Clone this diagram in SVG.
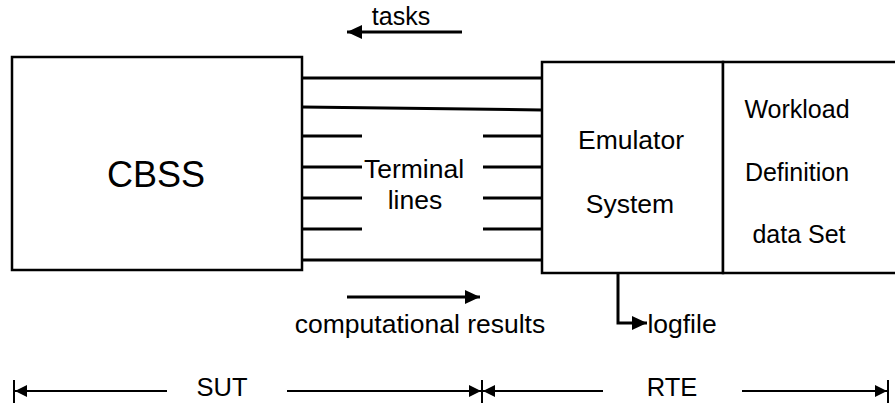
<svg xmlns="http://www.w3.org/2000/svg" width="895" height="406" viewBox="0 0 895 406">
<style>
.box{fill:#fff;stroke:#000;stroke-width:2.5}
.ln{stroke:#000;stroke-width:3;fill:none}
.thin{stroke:#000;stroke-width:2;fill:none}
.t{font-family:"Liberation Sans",Arial,sans-serif;font-size:26.5px;fill:#000;text-anchor:middle}
.s{font-size:25px}
</style>
<defs>
<marker id="ah" markerUnits="userSpaceOnUse" markerWidth="16" markerHeight="14" refX="15" refY="7" orient="auto">
<path d="M0,0 L15,7 L0,14 Z" fill="#000"/>
</marker>
<marker id="ahs" markerUnits="userSpaceOnUse" markerWidth="13" markerHeight="12" refX="12" refY="6" orient="auto">
<path d="M0,0 L12,6 L0,12 Z" fill="#000"/>
</marker>
</defs>
<g id="cbss">
<rect class="box" x="12" y="57" width="290" height="213"/>
<text class="t" x="156" y="187" style="font-size:36px">CBSS</text>
</g>
<g id="emulator">
<rect class="box" x="542" y="62" width="181" height="211"/>
<text class="t" x="631" y="149">Emulator</text>
<text class="t" x="630" y="213">System</text>
</g>
<g id="workload">
<rect class="box" x="723" y="62" width="180" height="211"/>
<text class="t s" x="797" y="118">Workload</text>
<text class="t s" x="797" y="181">Definition</text>
<text class="t s" x="799" y="243">data Set</text>
</g>
<g id="connectors">
<line class="ln" x1="302" y1="78" x2="542" y2="78"/>
<line class="ln" x1="302" y1="107" x2="542" y2="110"/>
<line class="ln" x1="302" y1="136" x2="362" y2="136"/>
<line class="ln" x1="483" y1="136" x2="542" y2="136"/>
<line class="ln" x1="302" y1="167" x2="362" y2="167"/>
<line class="ln" x1="483" y1="167" x2="542" y2="167"/>
<line class="ln" x1="302" y1="198" x2="362" y2="198"/>
<line class="ln" x1="483" y1="198" x2="542" y2="198"/>
<line class="ln" x1="302" y1="229" x2="362" y2="229"/>
<line class="ln" x1="483" y1="229" x2="542" y2="229"/>
<line class="ln" x1="302" y1="260" x2="542" y2="260"/>
<line class="ln" x1="462" y1="32" x2="347" y2="32" marker-end="url(#ah)"/>
<line class="ln" x1="347" y1="297" x2="480" y2="297" marker-end="url(#ah)"/>
<polyline class="ln" points="618,273 618,323 647,323" marker-end="url(#ah)"/>
<line class="thin" x1="167" y1="391" x2="15" y2="391" marker-end="url(#ahs)"/>
<line class="thin" x1="287" y1="391" x2="481" y2="391" marker-end="url(#ahs)"/>
<line class="thin" x1="603" y1="391" x2="483" y2="391" marker-end="url(#ahs)"/>
<line class="thin" x1="742" y1="391" x2="887" y2="391" marker-end="url(#ahs)"/>
<line class="thin" x1="14" y1="380" x2="14" y2="403"/>
<line class="thin" x1="482" y1="380" x2="482" y2="403"/>
<line class="thin" x1="888" y1="380" x2="888" y2="403"/>
</g>
<g id="labels">
<text class="t s" x="401" y="25">tasks</text>
<text class="t" x="414" y="178">Terminal</text>
<text class="t" x="415" y="209">lines</text>
<text class="t" x="420" y="333">computational results</text>
<text class="t" x="682" y="333">logfile</text>
<text class="t" x="222" y="396" style="font-size:25.5px">SUT</text>
<text class="t" x="672" y="396" style="font-size:25.5px">RTE</text>
</g>
</svg>
